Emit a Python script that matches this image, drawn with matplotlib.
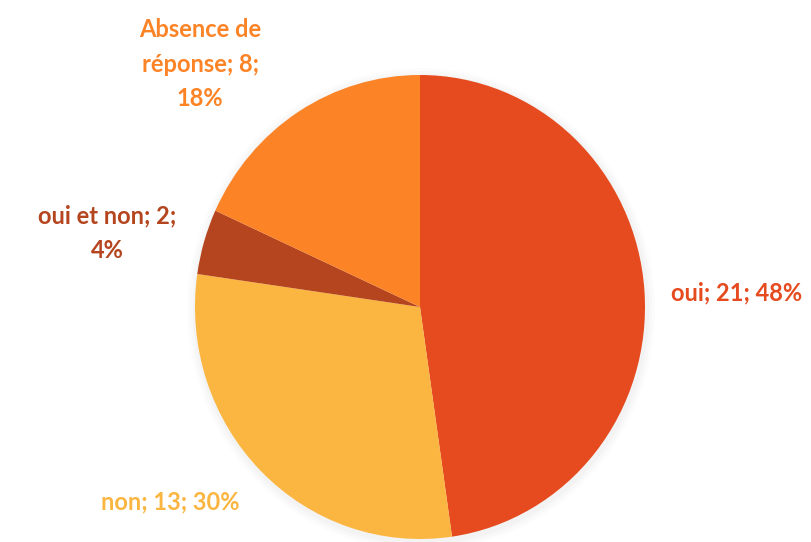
import matplotlib
matplotlib.use("Agg")
import matplotlib.pyplot as plt

labels = ["oui", "non", "oui et non", "Absence de réponse"]
values = [21, 13, 2, 8]
colors = ["#E64B1F", "#FBB641", "#B5451E", "#FC8326"]
label_text = ["oui; 21; 48%", "non; 13; 30%", "oui et non; 2;\n4%", "Absence de\nréponse; 8;\n18%"]
# label centres in pixels (x, y from top)
label_pos = [(737, 293), (170, 502), (107, 233), (200, 64)]

W, H = 811, 542
fig = plt.figure(figsize=(W / 100, H / 100), dpi=100)
fig.patch.set_facecolor("white")

# pie centre and radii in pixels
cx, cy, rx, ry = 420, 307, 225, 232
ax = fig.add_axes([(cx - rx * 1.08) / W, (H - cy - ry * 1.08) / H,
                   2 * rx * 1.08 / W, 2 * ry * 1.08 / H])

# soft shadow
for i, a in enumerate([0.02, 0.03, 0.04]):
    s = 1.04 - i * 0.013
    ax.add_patch(matplotlib.patches.Ellipse((0.005, -0.01), 2 * s, 2 * s,
                                            color="#888888", alpha=a, lw=0))

ax.pie(values, colors=colors, startangle=90, counterclock=False, radius=1,
       wedgeprops=dict(linewidth=0))
ax.set_xlim(-1.08, 1.08)
ax.set_ylim(-1.08, 1.08)
ax.set_aspect("auto")
ax.axis("off")

tax = fig.add_axes([0, 0, 1, 1])
tax.set_xlim(0, W)
tax.set_ylim(H, 0)
tax.axis("off")
for t, (x, y), c in zip(label_text, label_pos, colors):
    tax.text(x, y, t, color=c, fontsize=17, fontweight="bold", family="Lato",
             ha="center", va="center", multialignment="center", linespacing=1.6)

fig.savefig("out.png", dpi=100)
